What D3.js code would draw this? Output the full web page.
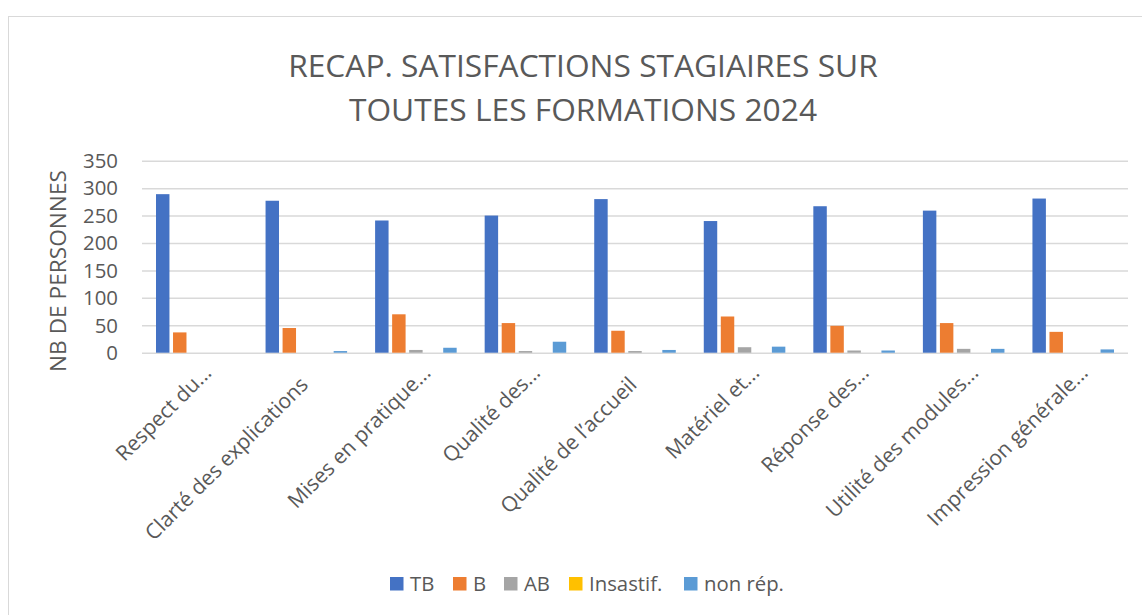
<!DOCTYPE html>
<html><head><meta charset="utf-8">
<script src="https://cdn.jsdelivr.net/npm/d3@7"></script>
<style>
html,body{margin:0;padding:0;background:#fff;}
svg{display:block;}
text{font-family:"Open Sans",sans-serif;fill:#595959;}
</style></head>
<body>
<svg id="chart" width="1142" height="615"></svg>
<script>
const categories = ["Respect du...","Clarté des explications","Mises en pratique...","Qualité des...","Qualité de l’accueil","Matériel et...","Réponse des...","Utilité des modules...","Impression générale..."];
const seriesNames = ["TB","B","AB","Insastif.","non rép."];
const seriesColors = ["#4472C4","#ED7D31","#A5A5A5","#FFC000","#5B9BD5"];
const TB      = [289,277,241,250,280,240,267,259,281];
const B       = [37,45,70,54,40,66,49,54,38];
const AB      = [0,0,5,3,3,10,4,7,0];
const Insatif = [0,0,0,0,0,0,0,0,0];
const nonRep  = [0,3,9,20,5,11,4,7,6];
const yTicks  = [0,50,100,150,200,250,300,350];
const titleLines = ["RECAP. SATISFACTIONS STAGIAIRES SUR","TOUTES LES FORMATIONS 2024"];
const yTitle = "NB DE PERSONNES";

const values = [TB,B,AB,Insatif,nonRep];
const svg = d3.select("#chart");

function fit(sel, target){
  sel.style("font-size","100px");
  const w = sel.node().getComputedTextLength();
  const fs = 100*target/w;
  sel.style("font-size", fs+"px");
  return fs;
}

// frame
svg.append("rect").attr("x",8.5).attr("y",16.5).attr("width",1160).attr("height",640)
  .attr("fill","#fff").attr("stroke","#D9D9D9").attr("stroke-width",1);

const plotL = 142, plotR = 1128, plotT = 160.7, plotB = 352.7;
const x0 = d3.scaleBand().domain(categories).range([plotL,plotR]).paddingInner(0).paddingOuter(0);
const x1 = d3.scaleBand().domain(seriesNames).range([14, x0.bandwidth()-14]).paddingInner(0.21).paddingOuter(0);
const y = d3.scaleLinear().domain([0,350]).range([plotB,plotT]);

// gridlines
const yAxis = d3.axisLeft(y).tickValues(yTicks).tickSize(-(plotR-plotL)).tickFormat("");
const gGrid = svg.append("g").attr("transform",`translate(${plotL},0)`).call(yAxis);
gGrid.select(".domain").remove();
gGrid.selectAll(".tick line").attr("stroke","#D9D9D9").attr("stroke-width",1.5);

// tick labels
const tl = svg.append("g").selectAll("text").data(yTicks).join("text")
  .attr("x",118).attr("y",d=>y(d)).attr("dy","0.36em").attr("text-anchor","end").text(d=>d);
{ const t = tl.filter(d=>d===350); const fsT = fit(t,35); tl.style("font-size",fsT+"px"); }

// bars
const groups = svg.append("g").selectAll("g").data(categories).join("g")
  .attr("transform",d=>`translate(${x0(d)},0)`);
groups.selectAll("rect").data((d,i)=>seriesNames.map((s,j)=>({s,v:values[j][i],c:seriesColors[j]})))
  .join("rect")
  .attr("x",d=>x1(d.s)).attr("width",x1.bandwidth())
  .attr("y",d=>y(d.v)).attr("height",d=>plotB-y(d.v))
  .attr("fill",d=>d.c);

// category labels (truncated labels sit further along the diagonal, as in the source)
const cl = svg.append("g").selectAll("text").data(categories).join("text")
  .attr("text-anchor","end")
  .attr("transform",d=>{
    const cx = x0(d)+x0.bandwidth()/2;
    return d.endsWith("...") ? `translate(${cx+16},374) rotate(-45)` : `translate(${cx+3},386) rotate(-45)`;
  })
  .text(d=>d);
{ const t = cl.filter(d=>d==="Clarté des explications"); const fs = fit(t,220); cl.style("font-size",fs+"px"); }

// y title
const yt = svg.append("text").attr("text-anchor","middle")
  .attr("transform","translate(66,271) rotate(-90)").text(yTitle);
fit(yt,202);

// title
const tt = svg.append("g").selectAll("text").data(titleLines).join("text")
  .attr("x",583).attr("y",(d,i)=>77+i*44).attr("text-anchor","middle").text(d=>d);
{ const fs = fit(tt.filter((d,i)=>i===0),590); tt.style("font-size",fs+"px"); }

// legend
const legX = [390,453,504,569,684];
const lg = svg.append("g").selectAll("g").data(seriesNames).join("g")
  .attr("transform",(d,i)=>`translate(${legX[i]},577)`);
lg.append("rect").attr("width",13.5).attr("height",13.5).attr("fill",(d,i)=>seriesColors[i]);
const lt = lg.append("text").attr("x",20).attr("y",6.75).attr("dy","0.36em").text(d=>d);
{ const fs = fit(lt.filter(d=>d==="non rép."),80); lt.style("font-size",fs+"px"); }
</script>
</body></html>
